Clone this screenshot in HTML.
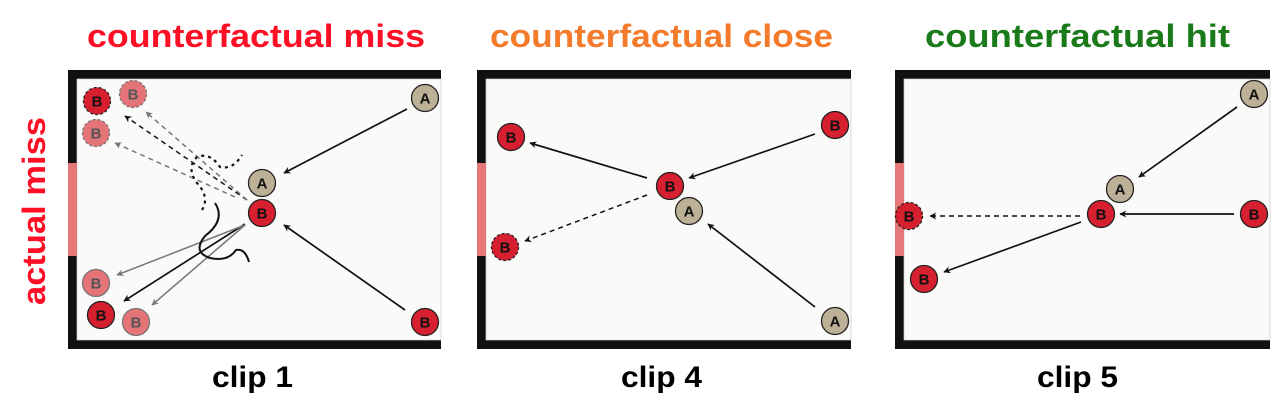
<!DOCTYPE html>
<html><head><meta charset="utf-8"><style>
html,body{margin:0;padding:0;background:#fff;}
svg{display:block;}
text{font-family:"Liberation Sans",sans-serif;font-weight:bold;}
</style></head><body>
<svg width="1274" height="401" viewBox="0 0 1274 401">
<defs>
<marker id="ah" viewBox="0 0 10 10" refX="9" refY="5" markerWidth="7" markerHeight="7" markerUnits="userSpaceOnUse" orient="auto"><path d="M0,0L10,5L0,10L3,5z" fill="#111"/></marker>
<marker id="ahg" viewBox="0 0 10 10" refX="9" refY="5" markerWidth="7" markerHeight="7" markerUnits="userSpaceOnUse" orient="auto"><path d="M0,0L10,5L0,10L3,5z" fill="#777"/></marker>
</defs>

<text x="87" y="47" font-size="32" fill="#fe0f25" textLength="338" lengthAdjust="spacingAndGlyphs">counterfactual miss</text>
<text x="490" y="47" font-size="32" fill="#f47a2c" textLength="343" lengthAdjust="spacingAndGlyphs">counterfactual close</text>
<text x="925" y="47" font-size="32" fill="#1a7a1a" textLength="305" lengthAdjust="spacingAndGlyphs">counterfactual hit</text>
<text transform="translate(45,305) rotate(-90)" font-size="32" fill="#fe0f25" textLength="188" lengthAdjust="spacingAndGlyphs">actual miss</text>
<text x="212" y="387" font-size="30" fill="#000" textLength="81" lengthAdjust="spacingAndGlyphs">clip 1</text>
<text x="621" y="387" font-size="30" fill="#000" textLength="81" lengthAdjust="spacingAndGlyphs">clip 4</text>
<text x="1037" y="387" font-size="30" fill="#000" textLength="81" lengthAdjust="spacingAndGlyphs">clip 5</text>

<g id="panels"></g>
</svg>
<script>
const NS='http://www.w3.org/2000/svg';
const root=document.getElementById('panels');
function el(tag,attrs,parent){const e=document.createElementNS(NS,tag);for(const k in attrs)e.setAttribute(k,attrs[k]);(parent||root).appendChild(e);return e;}
const frames=[[68,441],[477,851],[895,1270]];
const frameTop=70, frameBottom=349, wall=9;
frames.forEach((f,i)=>{
  const g=el('g',{});
  
  
  const bg=el('rect',{x:f[0],y:frameTop,width:f[1]-f[0],height:frameBottom-frameTop,fill:'#111'},g);
  
  
  const fl=el('rect',{x:f[0]+wall,y:frameTop+wall,width:f[1]-f[0]-wall,height:frameBottom-frameTop-2*wall,fill:'#fafaf9',stroke:'#ccc','stroke-width':0.7},g);
  
  
  const goal=el('rect',{x:f[0],y:163,width:wall,height:93,fill:'#e6787a'},g);
  
  
});
const arrows=[
 [407,109,284,173,'s'],[405,310,284,225,'s'],[245,224,124,301,'s'],[245,225,117,275,'g'],[245,225,152,305,'g'],
 [247,200,125,116,'d'],[247,200,146,112,'dg'],[235,197,115,143,'dg'],
 [815,134,689,178,'s'],[647,178,530,143,'s'],[647,195,525,241,'d'],[815,307,708,224,'s'],
 [1237,107,1139,177,'s'],[1234,214,1120,214,'s'],[1080,216,930,216,'d'],[1081,222,944,272,'s']
];
arrows.forEach(a=>{
  const gray=a[4].includes('g');
  const ln=el('line',{x1:a[0],y1:a[1],x2:a[2],y2:a[3],stroke:gray?'#777':'#111','stroke-width':a[4]==='s'?1.7:1.5,'marker-end':gray?'url(#ahg)':'url(#ah)'});
  if(a[4].includes('d'))ln.setAttribute('stroke-dasharray','5,4');
  
  
});
const p1=el('path',{d:'M202,210 Q210,197 197,183 Q186,168 197,157 Q210,152 220,167 Q233,170 242,155',fill:'none',stroke:'#111','stroke-width':2.2,'stroke-dasharray':'3,4'});


const p2=el('path',{d:'M215,203 Q226,220 205,236 Q192,252 210,258 Q228,262 236,250 Q245,248 249,262',fill:'none',stroke:'#111','stroke-width':2});


const balls=[
 [97,101,'B','r',1],[133,94,'B','p',1],[96,133,'B','p',1],[425,98,'A','a',0],[262,183,'A','a',0],[262,213,'B','r',0],
 [425,322,'B','r',0],[96,283,'B','p',0],[101,315,'B','r',0],[136,322,'B','p',0],
 [835,125,'B','r',0],[511,137,'B','r',0],[670,186,'B','r',0],[689,211,'A','a',0],[505,247,'B','r',1],[835,321,'A','a',0],
 [1254,94,'A','a',0],[1120,189,'A','a',0],[1101,214,'B','r',0],[1254,214,'B','r',0],[909,216,'B','r',1],[924,279,'B','r',0]
];
const fills={r:'#d6202f',p:'#e57478',a:'#bcb096'};
balls.forEach(b=>{
  const g=el('g',{});
  
  
  const c=el('circle',{cx:b[0],cy:b[1],r:13.5,fill:fills[b[3]],stroke:b[3]==='p'?'#777':'#222','stroke-width':1.3},g);
  if(b[4])c.setAttribute('stroke-dasharray','3,2');
  const t=el('text',{x:b[0],y:b[1]+5.5,'text-anchor':'middle','font-size':15,fill:b[3]==='p'?'#555':'#111'},g);
  t.textContent=b[2];
});
</script>
</body></html>
